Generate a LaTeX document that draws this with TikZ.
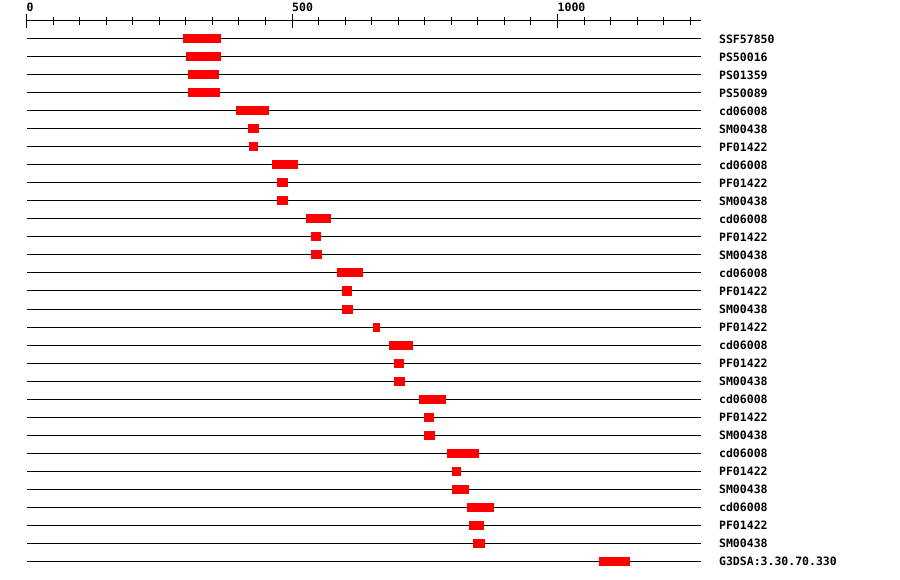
\documentclass[tikz,border=0pt]{standalone}
\usepackage{fontspec}
\setmonofont{DejaVu Sans Mono}
\usepackage{tikz}
\definecolor{hitred}{RGB}{255,0,0}
\tikzset{
  seqline/.style={draw=black,line width=1pt},
  axisline/.style={draw=black,line width=1pt},
  tickmark/.style={draw=black,line width=1pt},
  hitbox/.style={fill=hitred,draw=none},
  labtext/.style={font=\fontsize{11.5}{12}\selectfont\ttfamily\bfseries,inner sep=0pt,anchor=base west}
}

\begin{document}
\begin{tikzpicture}[x=1pt,y=-1pt]
  \useasboundingbox (0,0) rectangle (900,580);
  \begin{scope}[xshift=26.5pt,x=0.531pt]
    % scale axis
    \draw[axisline] (0,21) -- (1271,21);
    \foreach \t in {0,50,...,1250}
      \draw[tickmark] (\t,17) -- (\t,25);
    \foreach \t in {0,500,1000}{
      \draw[tickmark] (\t,14) -- (\t,28);
      \node[labtext] (tick\t) at (\t,12) {\t};
    }
    % domain hits
    \foreach \lab/\a/\b [count=\i from 0] in {
      SSF57850/295/366, PS50016/300/366, PS01359/304/362, PS50089/304/364,
      cd06008/394/457, SM00438/417/438, PF01422/419/436,
      cd06008/462/511, PF01422/472/492, SM00438/472/492,
      cd06008/526/573, PF01422/536/555, SM00438/536/556,
      cd06008/585/634, PF01422/594/613, SM00438/594/615,
      PF01422/652/666,
      cd06008/683/728, PF01422/692/711, SM00438/692/713,
      cd06008/739/790, PF01422/749/767, SM00438/749/769,
      cd06008/792/852, PF01422/801/818, SM00438/801/833,
      cd06008/830/880, PF01422/833/862, SM00438/841/864,
      G3DSA:3.30.70.330/1078/1136}{
      \pgfmathsetmacro\y{39+18*\i}
      \draw[seqline] (0,\y) -- (1271,\y);
      \fill[hitbox] (\a,\y-4.5) rectangle (\b,\y+4.5);
      \node[labtext] (lab\i) at (1304,\y+4.6) {\lab};
    }
  \end{scope}
\end{tikzpicture}
\end{document}
